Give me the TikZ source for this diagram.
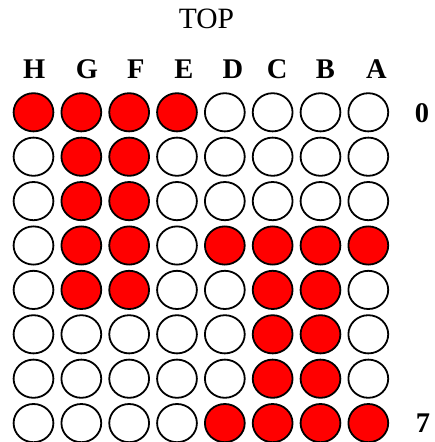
\documentclass[tikz,border=0pt]{standalone}
\usepackage{fontspec}
\setmainfont{Liberation Serif}
\usetikzlibrary{shapes.geometric}
\definecolor{ledred}{RGB}{255,0,0}
\tikzset{
  led/.style={ellipse, draw=black, line width=1.8pt, minimum width=39.8pt, minimum height=38.2pt, inner sep=0pt, outer sep=0pt},
  collabel/.style={anchor=base, inner sep=0pt, font=\fontsize{28.5}{30}\selectfont\bfseries},
  rowlabel/.style={anchor=base, inner sep=0pt, font=\fontsize{28.5}{30}\selectfont\bfseries},
  toplabel/.style={anchor=base, inner sep=0pt, font=\fontsize{29.5}{31}\selectfont}
}
\begin{document}
\begin{tikzpicture}[x=1pt, y=-1pt]
\useasboundingbox (0,0) rectangle (434,442);
\node[toplabel] (top) at (206.5,28.3) {TOP};
\foreach \n/\l/\x in {h/H/34.2, g/G/87, f/F/135.8, e/E/184, d/D/233, c/C/277.2, b/B/325.3, a/A/376.3}
  \node[collabel] (col\n) at (\x,78.3) {\l};
\node[rowlabel] (row0) at (422,122.3) {0};
\node[rowlabel] (row7) at (423,432.3) {7};
\foreach \r/\bits in {0/{1,1,1,1,0,0,0,0}, 1/{0,1,1,0,0,0,0,0}, 2/{0,1,1,0,0,0,0,0}, 3/{0,1,1,0,1,1,1,1}, 4/{0,1,1,0,0,1,1,0}, 5/{0,0,0,0,0,1,1,0}, 6/{0,0,0,0,0,1,1,0}, 7/{0,0,0,0,1,1,1,1}} {
  \foreach \c in {0,...,7} {
    \pgfmathtruncatemacro\b{{\bits}[\c]}
    \ifnum\b=1 \def\fc{ledred}\else \def\fc{white}\fi
    \node[led, fill=\fc] (led\r\c) at ({33.5+47.83*\c},{112.3+44.4*\r}) {};
  }
}
\end{tikzpicture}
\end{document}
